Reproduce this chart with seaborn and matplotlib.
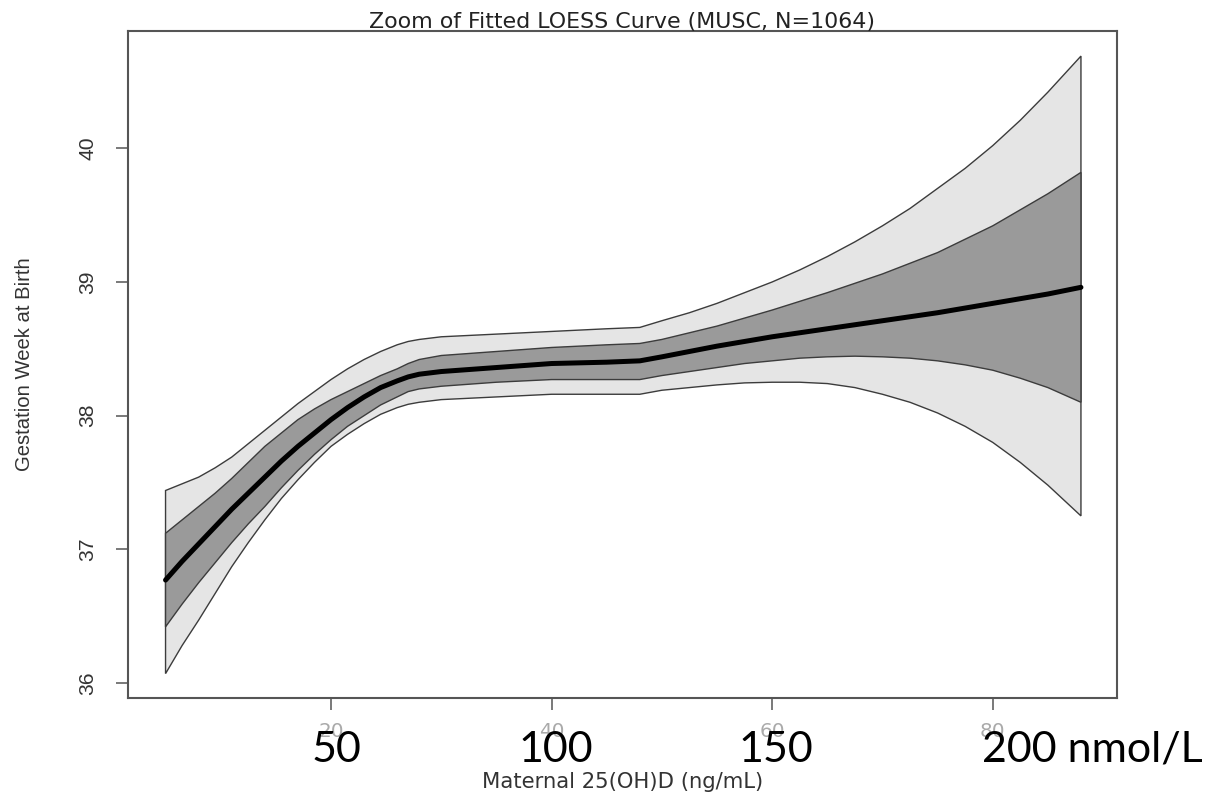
import numpy as np
import pandas as pd
import matplotlib
matplotlib.use("Agg")
import matplotlib.pyplot as plt
import seaborn as sns
from matplotlib import font_manager

# ---------------- data ----------------
vitd_ngml = [5, 6.5, 8, 9.5, 11, 12.5, 14, 15.5, 17, 18.5, 20, 21.5, 23, 24.5, 26, 27, 28, 30,
             35, 40, 45, 48, 50, 52.5, 55, 57.5, 60, 62.5, 65, 67.5, 70, 72.5, 75, 77.5, 80,
             82.5, 85, 88]
fit_week = [36.77, 36.91, 37.04, 37.17, 37.30, 37.42, 37.54, 37.66, 37.77, 37.87, 37.97, 38.06,
            38.14, 38.21, 38.26, 38.29, 38.31, 38.33,
            38.36, 38.39, 38.40, 38.41, 38.44, 38.48, 38.52, 38.555, 38.59, 38.62, 38.65, 38.68,
            38.71, 38.74, 38.77, 38.805, 38.84, 38.875, 38.91, 38.96]
inner_upper = [37.12, 37.22, 37.32, 37.42, 37.53, 37.65, 37.77, 37.87, 37.97, 38.05, 38.12, 38.18,
               38.24, 38.30, 38.35, 38.39, 38.42, 38.45,
               38.48, 38.51, 38.53, 38.54, 38.57, 38.62, 38.67, 38.73, 38.79, 38.855, 38.92, 38.99,
               39.06, 39.14, 39.22, 39.32, 39.42, 39.54, 39.66, 39.82]
inner_lower = [36.42, 36.59, 36.75, 36.90, 37.05, 37.19, 37.32, 37.46, 37.59, 37.71, 37.82, 37.92,
               38.00, 38.08, 38.14, 38.18, 38.20, 38.22,
               38.25, 38.27, 38.27, 38.27, 38.30, 38.33, 38.36, 38.39, 38.41, 38.43, 38.44, 38.445,
               38.44, 38.43, 38.41, 38.38, 38.34, 38.28, 38.21, 38.10]
outer_upper = [37.44, 37.49, 37.54, 37.61, 37.69, 37.79, 37.89, 37.99, 38.09, 38.18, 38.27, 38.35,
               38.42, 38.48, 38.53, 38.555, 38.57, 38.59,
               38.61, 38.63, 38.65, 38.66, 38.71, 38.77, 38.84, 38.92, 39.00, 39.09, 39.19, 39.30,
               39.42, 39.55, 39.70, 39.85, 40.02, 40.21, 40.42, 40.69]
outer_lower = [36.07, 36.28, 36.47, 36.67, 36.87, 37.05, 37.22, 37.38, 37.52, 37.65, 37.77, 37.86,
               37.94, 38.01, 38.06, 38.085, 38.10, 38.12,
               38.14, 38.16, 38.16, 38.16, 38.19, 38.21, 38.23, 38.245, 38.25, 38.25, 38.24, 38.21,
               38.16, 38.10, 38.02, 37.92, 37.80, 37.65, 37.48, 37.25]

x_ticks = [20, 40, 60, 80]
y_ticks = [36, 37, 38, 39, 40]
nmol_labels = ["50", "100", "150", "200 nmol/L"]
nmol_at = [20.5, 40.4, 60.3, 79.0]

title = "Zoom of Fitted LOESS Curve (MUSC, N=1064)"
xlabel = "Maternal 25(OH)D (ng/mL)"
ylabel = "Gestation Week at Birth"

# ---------------- style ----------------
sns.set_style("white")
plt.rcParams["font.family"] = ["DejaVu Sans"]

names = {f.name for f in font_manager.fontManager.ttflist}
narrow = "Liberation Sans" if "Liberation Sans" in names else "DejaVu Sans"
big = "Lato" if "Lato" in names else "DejaVu Sans"

DPI = 100
fig = plt.figure(figsize=(12.06, 7.97), dpi=DPI)
ax = fig.add_axes([0.1059, 0.1236, 0.8205, 0.8379])

x = np.asarray(vitd_ngml, dtype=float)
ou, ol = np.asarray(outer_upper), np.asarray(outer_lower)
iu, il = np.asarray(inner_upper), np.asarray(inner_lower)

ax.fill(np.r_[x, x[::-1]], np.r_[ou, ol[::-1]], facecolor="#e5e5e5",
        edgecolor="#3c3c3c", linewidth=1.0, zorder=1)
ax.fill(np.r_[x, x[::-1]], np.r_[iu, il[::-1]], facecolor="#9a9a9a",
        edgecolor="#3c3c3c", linewidth=1.0, zorder=2)

df = pd.DataFrame({"vitd": vitd_ngml, "week": fit_week})
sns.lineplot(data=df, x="vitd", y="week", color="black", linewidth=3.6,
             ax=ax, zorder=3, sort=False)

ax.set_xlim(1.57, 91.29)
ax.set_ylim(35.884, 40.88)

for s in ax.spines.values():
    s.set_visible(True)
    s.set_color("#555555")
    s.set_linewidth(1.5)

ax.set_xticks(x_ticks)
ax.set_xticklabels([str(v) for v in x_ticks])
ax.set_yticks(y_ticks)
ax.set_yticklabels([str(v) for v in y_ticks])
ax.tick_params(axis="both", which="major", direction="out", length=8.6, width=1.1,
               color="#555555", bottom=True, left=True)
ax.tick_params(axis="x", pad=8.0, labelsize=14.4, labelcolor="#aaaaaa")
ax.tick_params(axis="y", pad=13.5, labelsize=15.2, labelcolor="#333333")
for lab in ax.get_yticklabels():
    lab.set_rotation(90)
    lab.set_va("center")
    lab.set_family(narrow)

ax.set_title(title, fontsize=15.9, color="#222222", pad=2)

ax.set_xlabel(xlabel, fontsize=15.2, color="#333333")
ax.xaxis.set_label_coords(0.5, (698.5 - 782) / 667.8)
ax.xaxis.label.set_va("center")

ax.set_ylabel(ylabel, fontsize=14.6, color="#333333", family=narrow)
ax.yaxis.set_label_coords((24 - 127.7) / 989.6, 0.5)
ax.yaxis.label.set_va("center")

# overlaid nmol/L annotation
for lab, pos in zip(nmol_labels, nmol_at):
    ha = "left" if "nmol" in lab else "center"
    ax.text(pos, (698.5 - 762) / 667.8, lab, transform=ax.get_xaxis_transform(),
            ha=ha, va="baseline", fontsize=31, family=big, color="black",
            clip_on=False, zorder=10)

ax.grid(False)
fig.savefig("out.png", dpi=DPI, facecolor="white")
